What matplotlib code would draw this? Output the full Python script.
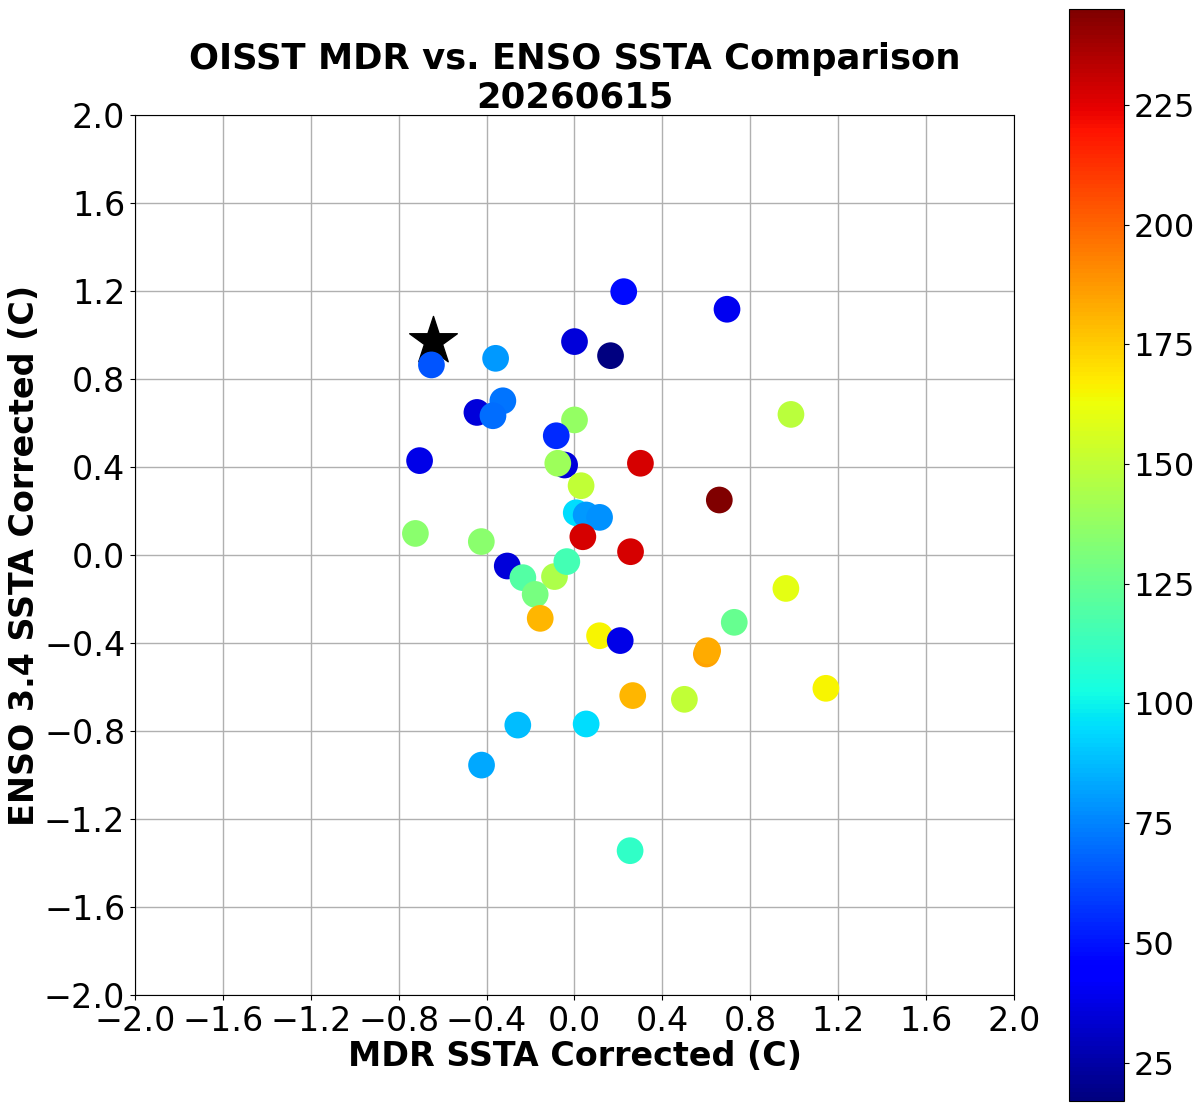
import matplotlib
matplotlib.use("Agg")
import matplotlib.pyplot as plt
import numpy as np

# Data
mdr = [0.985, -0.359, 0.224, 0.694, 0.0, 0.164, -0.444, -0.326, -0.371, 0.0,
       -0.083, -0.705, -0.045, -0.076, 0.30, 0.659, 0.03, 0.008, 0.053, 0.114,
       0.038, 0.255, -0.724, -0.424, -0.306, -0.235, -0.091, -0.035, -0.179, -0.156,
       0.114, 0.208, 0.60, 0.606, 0.727, 0.962, 0.265, 0.50, -0.258, 0.053,
       -0.423, 0.253, 1.144, -0.651]
enso = [0.639, 0.894, 1.197, 1.117, 0.970, 0.906, 0.648, 0.701, 0.633, 0.614,
        0.542, 0.429, 0.409, 0.417, 0.417, 0.25, 0.315, 0.192, 0.182, 0.171,
        0.083, 0.015, 0.098, 0.061, -0.05, -0.103, -0.098, -0.030, -0.179, -0.288,
        -0.367, -0.389, -0.45, -0.435, -0.306, -0.152, -0.639, -0.656, -0.773, -0.768,
        -0.955, -1.344, -0.606, 0.864]
value = [148, 80, 48, 40, 35, 17, 35, 72, 70, 138,
         55, 38, 35, 140, 228, 245, 150, 95, 80, 78,
         228, 228, 135, 135, 35, 120, 145, 115, 130, 180,
         165, 38, 185, 183, 125, 160, 180, 150, 88, 95,
         83, 110, 165, 65]

current_mdr = [-0.644]
current_enso = [0.975]

title = "OISST MDR vs. ENSO SSTA Comparison\n20260615"
xlabel = "MDR SSTA Corrected (C)"
ylabel = "ENSO 3.4 SSTA Corrected (C)"
ticks = np.arange(-2.0, 2.01, 0.4)
cbar_ticks = [25, 50, 75, 100, 125, 150, 175, 200, 225]

fig = plt.figure(figsize=(12, 11.1), dpi=100)
ax = fig.add_axes([135/1200, 1 - 995/1110, (1014-135)/1200, (995-115)/1110])
cax = fig.add_axes([1069/1200, 1 - 1101/1110, (1124-1069)/1200, (1101-9)/1110])

ax.scatter(current_mdr, current_enso, marker='*', s=1300, c='black', zorder=2)
sc = ax.scatter(mdr, enso, c=value, cmap='jet', vmin=17, vmax=245, s=370,
                zorder=3, linewidths=0)

ax.set_xlim(-2, 2)
ax.set_ylim(-2, 2)
ax.set_xticks(ticks)
ax.set_yticks(ticks)
labels = [f"{t:.1f}".replace("-", "\u2212") if abs(t) > 1e-9 else "0.0" for t in ticks]
ax.set_xticklabels(labels)
ax.set_yticklabels(labels)
ax.tick_params(labelsize=24)
ax.grid(True, color='#b0b0b0', linewidth=1)
ax.set_axisbelow(True)
ax.set_xlabel(xlabel, fontsize=24, fontweight='bold', labelpad=2)
ax.set_ylabel(ylabel, fontsize=24, fontweight='bold', labelpad=2)
ax.set_title(title, fontsize=25.5, fontweight='bold', pad=5)

cb = fig.colorbar(sc, cax=cax)
cb.set_ticks(cbar_ticks)
cb.ax.tick_params(labelsize=23)

fig.savefig("out.png", dpi=100)
